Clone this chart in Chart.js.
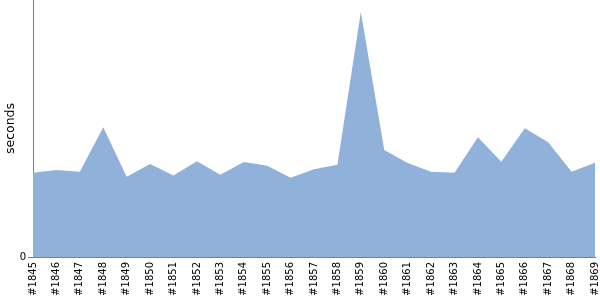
<!DOCTYPE html>
<html>
<head>
<meta charset="utf-8">
<script src="https://cdn.jsdelivr.net/npm/chart.js@4/dist/chart.umd.min.js"></script>
<style>
html,body{margin:0;padding:0;background:#fff;}
#wrap{width:600px;height:300px;}
</style>
</head>
<body>
<div id="wrap"><canvas id="c" width="600" height="300"></canvas></div>
<script>
const categories = ["#1845","#1846","#1847","#1848","#1849","#1850","#1851","#1852","#1853","#1854","#1855","#1856","#1857","#1858","#1859","#1860","#1861","#1862","#1863","#1864","#1865","#1866","#1867","#1868","#1869"];
const seconds = [8.43,8.70,8.53,12.97,8.03,9.30,8.15,9.57,8.23,9.50,9.13,7.93,8.77,9.23,24.50,10.70,9.40,8.53,8.43,11.97,9.53,12.87,11.47,8.53,9.43];
const yTickValues = [0];
const yMax = 25.7;

Chart.defaults.font.family = "'DejaVu Sans', sans-serif";
Chart.defaults.color = '#000';

new Chart(document.getElementById('c'), {
  type: 'line',
  data: {
    labels: categories,
    datasets: [{
      data: seconds,
      fill: 'origin',
      backgroundColor: '#8fb1da',
      borderWidth: 0,
      pointRadius: 0,
      tension: 0
    }]
  },
  options: {
    responsive: false,
    animation: false,
    layout: { padding: 0 },
    plugins: { legend: { display: false }, tooltip: { enabled: false } },
    scales: {
      x: {
        offset: false,
        grid: { display: false, drawTicks: false },
        border: { display: true, color: '#808080', width: 1 },
        ticks: { minRotation: 90, maxRotation: 90, autoSkip: false, padding: 5, font: { size: 10 } },
        afterFit: s => { s.height = 43; s.paddingLeft = 0; s.paddingRight = 5; }
      },
      y: {
        min: 0,
        max: yMax,
        afterBuildTicks: s => { s.ticks = yTickValues.map(v => ({ value: v })); },
        grid: { drawOnChartArea: false, drawTicks: true, tickLength: 5, color: '#808080' },
        border: { display: true, color: '#808080', width: 1 },
        ticks: { padding: 2, font: { size: 10 } },
        title: { display: true, text: 'seconds', font: { size: 12.5 }, padding: { top: 3, bottom: 0 } },
        afterFit: s => { s.width = 33; s.paddingTop = 0; s.paddingBottom = 0; }
      }
    }
  }
});
</script>
</body>
</html>
